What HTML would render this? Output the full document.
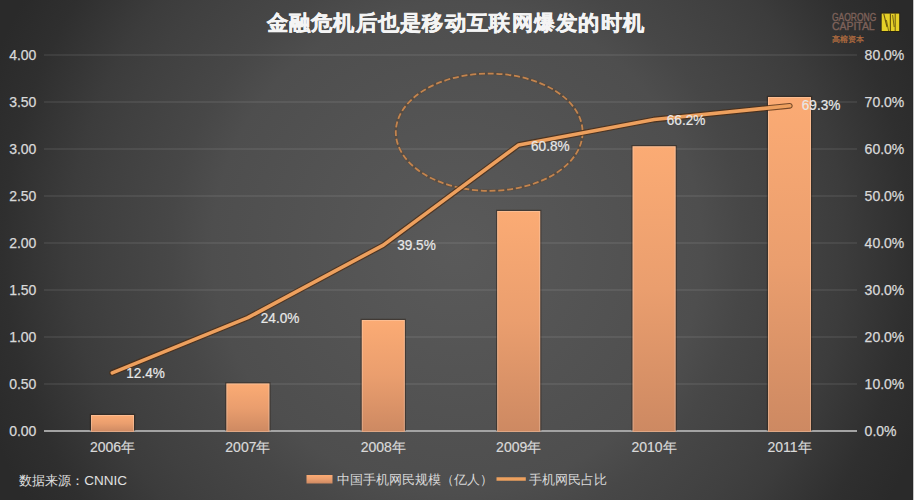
<!DOCTYPE html>
<html><head><meta charset="utf-8">
<style>
html,body{margin:0;padding:0;}
body{width:914px;height:500px;overflow:hidden;position:relative;
background:radial-gradient(circle at 457px 248px,#5a5a5a 0,#4e4e4e 245px,#474747 287px,#404040 355px,#3c3c3c 387px,#2f2f2f 453px,#2a2a2a 500px);
font-family:"Liberation Sans",sans-serif;}
svg{position:absolute;left:0;top:0;}
text{font-family:"Liberation Sans",sans-serif;}
.ax{font-size:14px;fill:#d9d9d9;stroke:#d9d9d9;stroke-width:0.25px;}
.cat{font-size:14px;fill:#d9d9d9;stroke:#d9d9d9;stroke-width:0.2px;}
.lb{font-size:14.5px;fill:#e8e8e8;stroke:#e8e8e8;stroke-width:0.2px;}
.lg{font-size:13px;fill:#d9d9d9;}
</style></head>
<body>
<svg width="914" height="500" viewBox="0 0 914 500">
<defs>
<linearGradient id="bg" x1="0" y1="0" x2="0" y2="1">
<stop offset="0" stop-color="#fbab74"/>
<stop offset="0.5" stop-color="#ea9e6e"/>
<stop offset="1" stop-color="#cd8962"/>
</linearGradient>
<filter id="blur1" x="-5%" y="-10%" width="110%" height="120%"><feGaussianBlur stdDeviation="0.7"/></filter>
</defs>
<!-- right edge strip -->
<rect x="912" y="0" width="1" height="500" fill="#262626" fill-opacity="0.6"/>
<rect x="913" y="0" width="1" height="500" fill="#c6c6c6"/>
<!-- title -->
<text transform="translate(455.3,29.8) scale(0.93,0.92)" x="0" y="0" text-anchor="middle" font-size="22.3" font-weight="bold" fill="#f4f4f4" stroke="#f4f4f4" stroke-width="0.55" textLength="405.8" lengthAdjust="spacing">金融危机后也是移动互联网爆发的时机</text>
<!-- gridlines -->
<g stroke="#ffffff" stroke-opacity="0.14" stroke-width="1.2">
<line x1="44" y1="55" x2="857" y2="55"/>
<line x1="44" y1="102" x2="857" y2="102"/>
<line x1="44" y1="149" x2="857" y2="149"/>
<line x1="44" y1="196" x2="857" y2="196"/>
<line x1="44" y1="243" x2="857" y2="243"/>
<line x1="44" y1="290" x2="857" y2="290"/>
<line x1="44" y1="337" x2="857" y2="337"/>
<line x1="44" y1="384" x2="857" y2="384"/>
</g>
<!-- axis line -->
<line x1="44" y1="431" x2="857" y2="431" stroke="#a3a3a3" stroke-width="2"/>
<!-- bars -->
<g id="bars">
<g fill="none" stroke="#2a1a10" stroke-opacity="0.45" stroke-width="1.2">
<path d="M90.4,431 V414.4 H134.6 V431"/>
<path d="M225.8,431 V382.9 H270.0 V431"/>
<path d="M361.2,431 V319.4 H405.4 V431"/>
<path d="M496.6,431 V210.4 H540.8 V431"/>
<path d="M632.0,431 V145.7 H676.2 V431"/>
<path d="M767.4,431 V96.4 H811.6 V431"/>
</g>
<g fill="url(#bg)">
<rect x="91" y="415" width="43" height="17.0"/>
<rect x="226.4" y="383.5" width="43" height="48.5"/>
<rect x="361.8" y="320" width="43" height="112.0"/>
<rect x="497.2" y="211" width="43" height="221.0"/>
<rect x="632.6" y="146.3" width="43" height="285.7"/>
<rect x="768" y="97" width="43" height="335.0"/>
</g>
<g fill="none" stroke="#ffe0c8" stroke-opacity="0.35" stroke-width="1">
<rect x="91.5" y="415.5" width="42" height="16.0"/>
<rect x="226.9" y="384.0" width="42" height="47.5"/>
<rect x="362.3" y="320.5" width="42" height="111.0"/>
<rect x="497.7" y="211.5" width="42" height="220.0"/>
<rect x="633.1" y="146.8" width="42" height="284.7"/>
<rect x="768.5" y="97.5" width="42" height="334.0"/>
</g>
</g>
<!-- left axis labels -->
<g class="ax" text-anchor="end">
<text x="36.4" y="60">4.00</text>
<text x="36.4" y="107">3.50</text>
<text x="36.4" y="154">3.00</text>
<text x="36.4" y="201">2.50</text>
<text x="36.4" y="248">2.00</text>
<text x="36.4" y="295">1.50</text>
<text x="36.4" y="342">1.00</text>
<text x="36.4" y="389">0.50</text>
<text x="36.4" y="436">0.00</text>
</g>
<!-- right axis labels -->
<g class="ax">
<text x="864.6" y="60">80.0%</text>
<text x="864.6" y="107">70.0%</text>
<text x="864.6" y="154">60.0%</text>
<text x="864.6" y="201">50.0%</text>
<text x="864.6" y="248">40.0%</text>
<text x="864.6" y="295">30.0%</text>
<text x="864.6" y="342">20.0%</text>
<text x="864.6" y="389">10.0%</text>
<text x="864.6" y="436">0.0%</text>
</g>
<!-- category labels -->
<g class="cat" text-anchor="middle">
<text x="112.5" y="451.9">2006年</text>
<text x="247.9" y="451.9">2007年</text>
<text x="383.3" y="451.9">2008年</text>
<text x="518.7" y="451.9">2009年</text>
<text x="654.1" y="451.9">2010年</text>
<text x="789.5" y="451.9">2011年</text>
</g>
<!-- dashed ellipse -->
<ellipse cx="489.2" cy="132.2" rx="93.4" ry="58.6" fill="none" stroke="#5e3c1e" stroke-opacity="0.3" stroke-width="3"/>
<ellipse cx="489.2" cy="132.2" rx="93.4" ry="58.6" fill="none" stroke="#c3844e" stroke-width="1.8" stroke-dasharray="6 2.8"/>
<!-- line series -->
<path d="M112.3,372.8 L247.9,317.6 L383.3,245.1 L518.7,144.9 L654.1,119.5 L789.8,105.8" fill="none" stroke="#4a2a10" stroke-opacity="0.75" stroke-width="5.8" stroke-linecap="round" stroke-linejoin="round" filter="url(#blur1)"/>
<path d="M112.3,372.8 L247.9,317.6 L383.3,245.1 L518.7,144.9 L654.1,119.5 L789.8,105.8" fill="none" stroke="#eda05e" stroke-width="3.6" stroke-linecap="round" stroke-linejoin="round"/>
<!-- data labels -->
<g class="lb">
<text x="126.3" y="378" textLength="38.6" lengthAdjust="spacingAndGlyphs">12.4%</text>
<text x="260.8" y="323" textLength="38.6" lengthAdjust="spacingAndGlyphs">24.0%</text>
<text x="397.2" y="250.4" textLength="38.6" lengthAdjust="spacingAndGlyphs">39.5%</text>
<text x="531" y="151" textLength="38.6" lengthAdjust="spacingAndGlyphs">60.8%</text>
<text x="666.8" y="125" textLength="38.6" lengthAdjust="spacingAndGlyphs">66.2%</text>
<text x="801.8" y="110.2" textLength="38.6" lengthAdjust="spacingAndGlyphs">69.3%</text>
</g>
<!-- source -->
<text x="19" y="485.2" class="lg" font-size="13.2" style="fill:#e0e0e0">数据来源：<tspan font-size="13.5" x="84.2">CNNIC</tspan></text>
<!-- legend -->
<rect x="306.5" y="475" width="26" height="8.5" fill="url(#bg)"/>
<text x="337" y="483.6" class="lg">中国手机网民规模（亿人）</text>
<line x1="496.5" y1="479" x2="525.8" y2="479" stroke="#eda05e" stroke-width="3.5"/>
<text x="529" y="483.6" class="lg">手机网民占比</text>
<!-- logo -->
<text x="831.9" y="21.2" font-size="10.3" fill="#7e625a" textLength="44.4" lengthAdjust="spacingAndGlyphs" stroke="#7e625a" stroke-width="0.35">GAORONG</text>
<text x="831.9" y="30.2" font-size="10.3" fill="#7e625a" textLength="42.8" lengthAdjust="spacingAndGlyphs" stroke="#7e625a" stroke-width="0.35">CAPITAL</text>
<rect x="881.2" y="13.1" width="18.4" height="18.4" fill="none" stroke="#2a2000" stroke-opacity="0.6" stroke-width="1"/>
<rect x="881.7" y="13.6" width="17.5" height="17.4" fill="#e6d028"/>
<g stroke="#4a3a08" stroke-opacity="0.8" fill="none">
<path d="M883.8,13.8 L887,27" stroke-width="1.1"/>
<path d="M886.4,20 L888.6,31" stroke-width="0.8"/>
<path d="M890.4,13.6 V31" stroke-width="1.2"/>
<path d="M892.6,15 L894.2,27" stroke-width="0.9"/>
<path d="M895.2,13.6 V31" stroke-width="1"/>
</g>
<text x="832" y="42.4" font-size="8" fill="#b46e40" stroke="#b46e40" stroke-width="0.25">高榕资本</text>
</svg>
</body></html>
